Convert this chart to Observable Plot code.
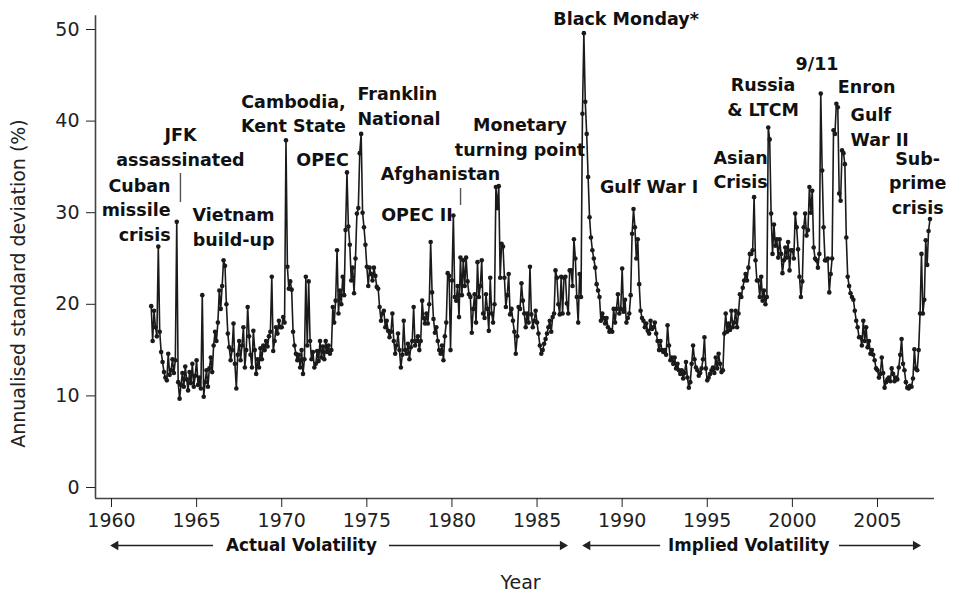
<!DOCTYPE html>
<html>
<head>
<meta charset="utf-8">
<script src="https://cdn.jsdelivr.net/npm/d3@7"></script>
<script src="https://cdn.jsdelivr.net/npm/@observablehq/plot@0.6"></script>
<style>
  html, body { margin: 0; padding: 0; background: #fff; }
  #chart { width: 953px; height: 594px; }
</style>
</head>
<body>
<div id="chart"></div>
<script>
// Monthly annualised volatility (%), starting May 1962
const vol1960s = [
  19.8, 16.0, 19.3, 17.5, 16.5, 26.3, 17.0, 14.8,                       // 1962 May-Dec
  13.7, 12.6, 12.0, 11.7, 14.6, 12.3, 12.8, 14.0, 12.5, 13.9, 29.0, 11.5, // 1963
  9.7, 11.2, 12.5, 11.0, 13.2, 11.8, 10.6, 12.6, 11.4, 13.5, 11.0, 12.2,  // 1964
  13.9, 11.2, 12.0, 10.8, 21.0, 9.9, 11.5, 12.8, 11.0, 13.0, 14.2, 12.6,  // 1965
  15.5, 17.0, 16.0, 18.0, 21.5, 19.5, 22.0, 24.8, 24.2, 20.0, 16.8, 15.3, // 1966
  13.9, 15.0, 17.9, 13.5, 10.8, 14.5, 16.0, 13.9, 15.5, 17.5, 13.1, 15.0, // 1967
  19.7, 16.5, 14.5, 13.1, 17.1, 15.0, 12.4, 14.0, 13.1, 15.2, 14.0, 15.5, // 1968
  15.0, 16.0, 15.4, 16.5, 17.0, 23.0, 14.9, 16.0, 17.5, 16.8, 18.2, 17.5  // 1969
];
const vol1970s = [
  17.5, 18.6, 18.0, 37.9, 24.1, 21.7, 22.5, 21.6, 17.0, 15.5, 14.6, 13.9, // 1970
  14.5, 13.1, 15.0, 12.4, 14.0, 23.0, 15.5, 22.5, 16.0, 14.0, 14.8, 13.1, // 1971
  13.5, 14.9, 13.8, 16.0, 14.2, 15.4, 14.0, 16.0, 14.8, 15.5, 14.6, 15.0, // 1972
  19.7, 18.0, 20.4, 25.9, 19.0, 21.5, 20.0, 23.0, 21.0, 28.1, 34.4, 28.5, // 1973
  26.5, 22.6, 24.0, 21.2, 25.0, 29.9, 30.5, 36.5, 38.6, 30.0, 28.4, 26.5, // 1974
  24.1, 22.0, 24.0, 23.3, 22.6, 24.0, 23.1, 21.9, 21.7, 19.7, 18.2, 19.0, // 1975
  19.3, 17.5, 18.2, 17.1, 16.4, 17.0, 19.0, 16.0, 14.6, 15.5, 16.8, 15.0, // 1976
  13.1, 14.5, 18.2, 15.0, 14.6, 15.7, 14.0, 15.3, 16.0, 19.7, 15.5, 16.0, // 1977
  16.5, 15.0, 16.0, 20.4, 18.5, 17.9, 19.0, 17.9, 20.0, 26.8, 21.3, 18.4, // 1978
  16.9, 17.5, 16.0, 15.0, 14.6, 15.5, 13.9, 16.5, 18.0, 23.4, 23.1, 15.0  // 1979
];
const vol1980s = [
  22.6, 29.7, 20.8, 20.4, 22.0, 18.6, 25.1, 21.0, 24.8, 22.0, 25.1, 22.5, // 1980
  21.1, 20.8, 16.9, 19.5, 21.1, 18.0, 24.6, 20.8, 22.0, 24.8, 19.0, 18.5, // 1981
  21.1, 19.5, 17.1, 22.9, 19.0, 18.0, 20.0, 32.8, 30.5, 32.9, 22.9, 26.6, // 1982
  26.3, 22.9, 19.7, 21.0, 23.3, 18.9, 19.5, 18.2, 17.0, 14.6, 16.5, 19.7, // 1983
  19.5, 22.3, 20.4, 19.0, 17.5, 19.0, 18.0, 24.1, 18.9, 17.5, 18.2, 19.3, // 1984
  18.0, 16.8, 15.5, 14.6, 15.0, 15.7, 16.2, 16.8, 17.5, 18.2, 17.0, 18.6, // 1985
  19.0, 23.7, 22.9, 20.0, 18.9, 23.0, 19.0, 22.9, 23.0, 20.1, 19.0, 23.7, // 1986
  23.7, 22.0, 27.1, 25.0, 20.8, 18.0, 23.3, 20.8, 40.8, 49.6, 42.1, 38.6, // 1987
  33.9, 29.5, 27.3, 25.9, 25.0, 24.0, 22.2, 21.5, 20.8, 18.2, 19.0, 18.5, // 1988
  17.9, 18.5, 17.5, 17.0, 17.2, 17.0, 19.5, 18.0, 19.5, 21.1, 19.0, 19.5  // 1989
];
const vol1990s = [
  23.9, 19.2, 20.5, 18.0, 18.5, 19.0, 21.0, 27.7, 30.4, 28.4, 25.0, 27.1, // 1990
  22.2, 19.3, 18.5, 18.2, 17.5, 17.9, 17.1, 16.8, 18.2, 17.3, 17.5, 18.0, // 1991
  16.8, 16.0, 15.0, 16.0, 15.0, 14.8, 15.0, 14.5, 17.7, 15.5, 13.9, 14.2, // 1992
  13.5, 14.2, 13.0, 13.5, 12.8, 12.4, 12.8, 11.9, 12.5, 13.7, 12.0, 10.9, // 1993
  11.5, 13.5, 15.5, 14.0, 13.1, 12.8, 12.2, 12.5, 13.0, 14.0, 16.4, 13.0, // 1994
  11.7, 12.0, 12.4, 12.8, 13.1, 12.5, 14.2, 13.0, 14.6, 13.5, 12.6, 12.8, // 1995
  16.8, 19.0, 17.0, 17.9, 17.2, 19.3, 17.5, 18.0, 19.3, 17.5, 19.0, 21.1, // 1996
  20.8, 21.8, 22.6, 23.3, 22.6, 24.0, 25.5, 25.5, 25.9, 31.7, 24.8, 22.6, // 1997
  22.6, 20.8, 23.0, 20.4, 21.5, 20.0, 20.8, 39.3, 38.0, 29.9, 25.5, 28.7, // 1998
  26.4, 27.1, 25.1, 27.1, 25.5, 23.4, 24.8, 26.2, 25.1, 26.8, 23.7, 25.9  // 1999
];
const vol2000s = [
  25.9, 25.0, 29.9, 28.4, 26.0, 23.0, 20.8, 22.5, 28.4, 29.9, 27.5, 28.1, // 2000
  32.8, 30.0, 32.4, 26.2, 25.0, 24.8, 24.0, 25.5, 43.0, 34.6, 28.4, 24.8, // 2001
  24.8, 25.0, 21.3, 23.3, 25.0, 39.0, 38.6, 41.9, 41.5, 32.1, 31.3, 36.8, // 2002
  36.5, 35.3, 27.3, 23.0, 22.0, 21.2, 20.8, 20.5, 19.3, 18.2, 17.5, 16.4, // 2003
  16.4, 15.5, 18.2, 16.0, 17.5, 15.3, 16.0, 14.6, 15.0, 14.5, 13.9, 13.0, // 2004
  12.8, 12.0, 12.4, 14.2, 12.5, 10.9, 11.5, 11.8, 12.0, 11.6, 13.0, 12.4, // 2005
  11.6, 12.0, 11.8, 13.1, 14.5, 16.2, 13.5, 12.8, 11.5, 10.9, 10.8, 11.1, // 2006
  11.0, 11.9, 15.1, 13.0, 12.8, 15.0, 19.0, 25.5, 19.0, 20.5, 27.0, 24.3, // 2007
  28.0, 29.3                                                              // 2008 Jan-Feb
];
const startYear = 1962;
const startMonthIndex = 4; // May

const xTicks = [1960, 1965, 1970, 1975, 1980, 1985, 1990, 1995, 2000, 2005];
const yTicks = [0, 10, 20, 30, 40, 50];

// Event annotations: label, year, value (label anchor), text anchor
const eventLabels  = ["Cuban\nmissile\ncrisis", "JFK\nassassinated", "Vietnam\nbuild-up", "Cambodia,\nKent State", "OPEC",
                      "Franklin\nNational", "Afghanistan", "OPEC II", "Monetary\nturning point", "Black Monday*",
                      "Gulf War I", "Asian\nCrisis", "Russia\n& LTCM", "9/11", "Enron", "Gulf\nWar II", "Sub-\nprime\ncrisis"];
const eventYears   = [1963.47, 1964.05, 1967.17, 1970.69, 1972.40,
                      1974.45, 1979.33, 1977.95, 1984.00, 1990.23,
                      1991.58, 1996.96, 1998.28, 2001.45, 2004.36, 2003.42, 2007.36];
const eventValues  = [30.46, 37.34, 28.60, 40.99, 35.92,
                      41.81, 34.39, 29.91, 38.43, 51.31,
                      32.97, 34.88, 42.79, 46.40, 43.89, 39.52, 33.41];
const eventAnchors = ["end", "middle", "middle", "middle", "middle",
                      "start", "middle", "middle", "middle", "middle",
                      "middle", "middle", "middle", "middle", "middle", "start", "middle"];

// Leader lines (year, from value, to value)
const leaderYears = [1964.05, 1980.505];
const leaderFrom  = [34.28, 32.64];
const leaderTo    = [31.11, 30.79];

// Volatility regimes shown below the axis
const regimeLabels = ["Actual Volatility", "Implied Volatility"];
const regimeCenters = [1971.16, 1997.43];
const regimeLeftArrow  = [[1960.24, 1965.99], [1987.97, 1992.26]];
const regimeRightArrow = [[1976.33, 1986.50], [2002.77, 2007.24]];
const regimeLevel = -6.33;

const axisLeft = 1959.06, axisRight = 2008.35, axisBottom = -1.2, axisTop = 51.5;

const monthly = [...vol1960s, ...vol1970s, ...vol1980s, ...vol1990s, ...vol2000s];
const series = monthly.map((v, i) => ({t: startYear + (startMonthIndex + i) / 12, v}));

const events = eventLabels.map((label, i) => ({label, x: eventYears[i], y: eventValues[i], anchor: eventAnchors[i]}));
const leaders = leaderYears.map((x, i) => ({x, y1: leaderFrom[i], y2: leaderTo[i]}));
const regimeText = regimeLabels.map((label, i) => ({label, x: regimeCenters[i], y: regimeLevel}));
const shafts = [...regimeLeftArrow, ...regimeRightArrow].map(([a, b]) => ({x1: a, x2: b, y: regimeLevel}));
const heads = [
  ...regimeLeftArrow.map(([a]) => ({x: a, y: regimeLevel, rot: -90})),
  ...regimeRightArrow.map(([, b]) => ({x: b, y: regimeLevel, rot: 90}))
];

const ink = "#1a1a1a";
const font = "DejaVu Sans";

const eventMark = (anchor) => Plot.text(events.filter(d => d.anchor === anchor), {
  x: "x", y: "y", text: "label", textAnchor: anchor,
  fontWeight: "bold", fontSize: 17.5, lineHeight: 1.4, fill: "#111"
});

const chart = Plot.plot({
  width: 953,
  height: 594,
  marginLeft: 95,
  marginBottom: 96,
  marginTop: 10,
  marginRight: 18,
  style: {fontFamily: font, fontSize: "19px", color: "#222", background: "#fff", overflow: "visible"},
  x: {domain: [1960, 2005], range: [111, 877]},
  y: {domain: [0, 50], range: [487, 29]},
  marks: [
    Plot.ruleX([axisLeft], {y1: axisBottom, y2: axisTop, stroke: "#444", strokeWidth: 1.6}),
    Plot.ruleY([axisBottom], {x1: axisLeft, x2: axisRight, stroke: "#444", strokeWidth: 1.6}),
    Plot.axisY({ticks: yTicks, tickSize: 9, tickPadding: 7, label: null, fontSize: 19, tickFormat: d => String(d)}),
    Plot.axisX({ticks: xTicks, tickSize: 9, tickPadding: 6, label: null, fontSize: 19, tickFormat: d => String(d)}),
    Plot.line(series, {x: "t", y: "v", stroke: ink, strokeWidth: 1.6}),
    Plot.dot(series, {x: "t", y: "v", r: 2.3, fill: ink, stroke: "none"}),
    Plot.ruleX(leaders, {x: "x", y1: "y1", y2: "y2", stroke: "#555", strokeWidth: 1.4}),
    eventMark("middle"),
    eventMark("start"),
    eventMark("end"),
    Plot.ruleY(shafts, {y: "y", x1: "x1", x2: "x2", stroke: "#222", strokeWidth: 1.3}),
    Plot.dot(heads, {x: "x", y: "y", symbol: "triangle", rotate: "rot", r: 3.5, fill: "#222", stroke: "none"}),
    Plot.text(regimeText, {x: "x", y: "y", text: "label", fontWeight: "bold", fontSize: 16.8, fill: "#111"}),
    Plot.text(["Year"], {x: 1984.03, y: -10.37, text: d => d, fontSize: 19, fill: "#222"}),
    Plot.text(["Annualised standard deviation (%)"], {x: 1954.54, y: 22.27, text: d => d, rotate: -90, fontSize: 19, fill: "#222"})
  ]
});

document.getElementById("chart").appendChild(chart);
</script>
</body>
</html>
